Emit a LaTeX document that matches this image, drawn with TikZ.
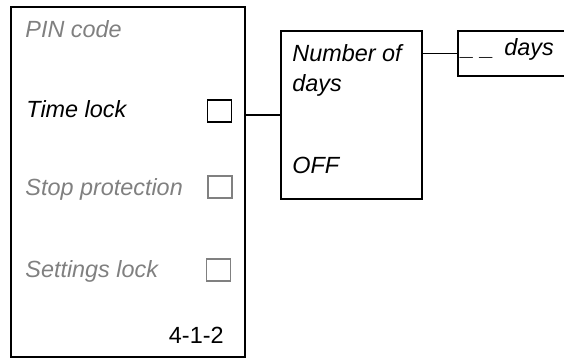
\documentclass[tikz,border=0pt]{standalone}
\usepackage{fontspec}
\setmainfont{Liberation Sans}
\definecolor{textgray}{RGB}{128,128,128}
\newcommand\menufont{\fontsize{11.7}{14}\selectfont}
\tikzset{
  box/.style={draw, line width=1pt, inner sep=0pt},
  item/.style={anchor=base west, inner sep=0pt, font=\menufont\itshape},
  dim/.style={text=textgray},
  checkbox/.style={draw, line width=0.9pt, minimum width=12pt, minimum height=11pt, inner sep=0pt},
  link/.style={line width=0.9pt},
}

\begin{document}
\begin{tikzpicture}[x=0.5pt, y=-0.5pt, font=\menufont]
  \clip (0,0) rectangle (564,359);
  % Menu panel 4-1-2
  \node[box, minimum width=117pt, minimum height=175pt] (panel) at (128,182) {};
  \node[item, dim] (pin) at (25,37) {PIN code};
  \node[item] (timelock) at (26,117) {Time lock};
  \node[item, dim] (stop) at (25,195) {Stop protection};
  \node[item, dim] (settings) at (25,277) {Settings lock};
  \node[anchor=base east, inner sep=0pt] (page) at (224,343) {4-1-2};
  % Check boxes
  \node[checkbox] (tlbox) at (219.5,111) {};
  \node[checkbox, draw=textgray] (stbox) at (220,187) {};
  \node[checkbox, draw=textgray] (slbox) at (218.5,270) {};
  % Time lock sub menu
  \node[box, minimum width=70.5pt, minimum height=84pt] (days) at (351.5,115) {};
  \node[item] (number) at (292,61) {Number of};
  \node[item] (dayword) at (292,91) {days};
  \node[item] (off) at (292,173) {OFF};
  % Day count field, runs off the right edge
  \node[box, anchor=west, minimum width=80pt, minimum height=22.5pt] (count) at (457,53.5) {};
  \node[item] (countval) at (461,55) {\_ \_\hspace{2pt} days};
  % Connectors
  \draw[link] (days.west) -- (days.west -| panel.east);
  \draw[link] (count.west) -- (count.west -| days.east);
\end{tikzpicture}
\end{document}
